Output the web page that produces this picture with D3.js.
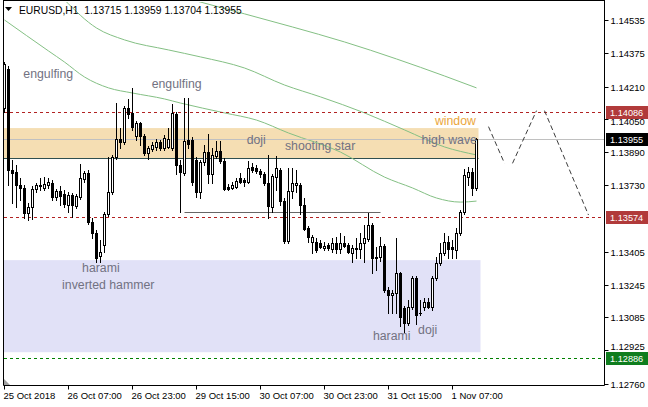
<!DOCTYPE html>
<html><head><meta charset="utf-8">
<script src="https://cdn.jsdelivr.net/npm/d3@7"></script>
<style>body{margin:0;background:#fff}svg{display:block}</style>
</head><body>
<svg id="c" width="648" height="407"></svg>
<script>
const symbolInfo = "EURUSD,H1";
const lastOHLC = [1.13715, 1.13959, 1.13704, 1.13955];

const opens = [
1.14106,1.14296,1.13803,1.13794,1.13730,1.13716,1.13594,1.13623,1.13711,1.13730,
1.13716,1.13730,1.13740,1.13672,1.13701,1.13686,1.13633,1.13681,1.13628,1.13672,
1.13760,1.13789,1.13550,1.13496,1.13384,1.13437,1.13589,1.13696,1.13867,1.13955,
1.13940,1.14106,1.14082,1.13969,1.14033,1.13969,1.13886,1.13906,1.13916,1.13940,
1.13911,1.13916,1.13911,1.14077,1.13828,1.13789,1.13950,1.13950,1.13852,1.13696,
1.13842,1.13891,1.13784,1.13872,1.13896,1.13847,1.13720,1.13716,1.13720,1.13764,
1.13755,1.13745,1.13818,1.13813,1.13798,1.13784,1.13740,1.13623,1.13769,1.13803,
1.13652,1.13457,1.13701,1.13730,1.13730,1.13633,1.13520,1.13452,1.13452,1.13447,
1.13423,1.13437,1.13418,1.13447,1.13418,1.13447,1.13437,1.13398,1.13418,1.13418,
1.13447,1.13467,1.13535,1.13379,1.13379,1.13433,1.13218,1.13193,1.13203,1.13301,
1.13130,1.13057,1.13135,1.13276,1.13106,1.13135,1.13159,1.13135,1.13276,1.13350,
1.13398,1.13452,1.13428,1.13413,1.13496,1.13598,1.13769,1.13794,1.13715];
const highs = [
1.14330,1.14311,1.13852,1.13828,1.13764,1.13730,1.13642,1.13725,1.13740,1.13764,
1.13769,1.13764,1.13755,1.13711,1.13725,1.13706,1.13696,1.13691,1.13686,1.13833,
1.13798,1.13803,1.13569,1.13511,1.13462,1.13598,1.13867,1.13877,1.14130,1.14008,
1.14116,1.14150,1.14204,1.14043,1.14038,1.13979,1.13921,1.13940,1.13955,1.13950,
1.13974,1.14008,1.14126,1.14086,1.13852,1.14155,1.14155,1.13964,1.13867,1.13852,
1.13925,1.13979,1.13911,1.13945,1.13945,1.13862,1.13735,1.13745,1.13764,1.13789,
1.13764,1.13847,1.13838,1.13828,1.13808,1.13794,1.13877,1.13784,1.13872,1.13813,
1.13667,1.13813,1.13813,1.13803,1.13740,1.13667,1.13530,1.13486,1.13472,1.13462,
1.13452,1.13447,1.13472,1.13476,1.13496,1.13481,1.13447,1.13437,1.13472,1.13496,
1.13535,1.13594,1.13545,1.13428,1.13476,1.13442,1.13232,1.13218,1.13472,1.13306,
1.13140,1.13169,1.13286,1.13286,1.13169,1.13179,1.13179,1.13286,1.13379,1.13447,
1.13496,1.13481,1.13462,1.13520,1.13608,1.13808,1.13818,1.13813,1.13959];
const lows = [
1.14086,1.13730,1.13642,1.13623,1.13657,1.13569,1.13559,1.13564,1.13696,1.13706,
1.13706,1.13716,1.13657,1.13657,1.13633,1.13623,1.13598,1.13574,1.13618,1.13662,
1.13745,1.13540,1.13472,1.13354,1.13354,1.13403,1.13579,1.13686,1.13857,1.13911,
1.13930,1.14057,1.13999,1.13950,1.13925,1.13877,1.13857,1.13896,1.13901,1.13901,
1.13901,1.13911,1.13901,1.13784,1.13598,1.13779,1.13911,1.13730,1.13672,1.13667,
1.13828,1.13740,1.13740,1.13862,1.13838,1.13706,1.13706,1.13711,1.13716,1.13740,
1.13725,1.13740,1.13794,1.13789,1.13769,1.13730,1.13569,1.13598,1.13706,1.13633,
1.13447,1.13447,1.13667,1.13696,1.13589,1.13511,1.13452,1.13398,1.13403,1.13423,
1.13413,1.13413,1.13403,1.13398,1.13398,1.13428,1.13398,1.13354,1.13374,1.13374,
1.13354,1.13457,1.13301,1.13315,1.13359,1.13208,1.13106,1.13106,1.13106,1.13042,
1.13013,1.13047,1.13125,1.13052,1.13096,1.13120,1.13130,1.13120,1.13267,1.13340,
1.13389,1.13374,1.13374,1.13374,1.13486,1.13589,1.13730,1.13681,1.13704];
const closes = [
1.14321,1.13803,1.13789,1.13730,1.13716,1.13594,1.13623,1.13711,1.13730,1.13725,
1.13735,1.13745,1.13672,1.13701,1.13677,1.13638,1.13681,1.13633,1.13677,1.13764,
1.13789,1.13550,1.13496,1.13374,1.13403,1.13589,1.13696,1.13867,1.13955,1.13940,
1.14106,1.14077,1.14013,1.14033,1.13969,1.13886,1.13911,1.13925,1.13940,1.13911,
1.13960,1.13955,1.14082,1.13828,1.13794,1.13945,1.13930,1.13745,1.13696,1.13842,
1.13891,1.13784,1.13877,1.13896,1.13847,1.13711,1.13711,1.13730,1.13750,1.13745,
1.13745,1.13813,1.13803,1.13798,1.13784,1.13740,1.13628,1.13774,1.13813,1.13652,
1.13457,1.13701,1.13740,1.13740,1.13633,1.13516,1.13476,1.13476,1.13413,1.13428,
1.13433,1.13423,1.13447,1.13418,1.13447,1.13433,1.13403,1.13423,1.13423,1.13447,
1.13472,1.13535,1.13374,1.13374,1.13433,1.13218,1.13193,1.13203,1.13301,1.13086,
1.13057,1.13135,1.13276,1.13096,1.13104,1.13159,1.13135,1.13276,1.13350,1.13398,
1.13452,1.13418,1.13418,1.13496,1.13598,1.13779,1.13794,1.13716,1.13955];

const xTickBars = [0,16,32,48,64,80,96,112];
const xTickLabels = ["25 Oct 2018","26 Oct 07:00","26 Oct 23:00","29 Oct 15:00","30 Oct 07:00","30 Oct 23:00","31 Oct 15:00","1 Nov 07:00"];
const yTicks = [1.14535,1.14375,1.14210,1.14050,1.13890,1.13730,1.13405,1.13245,1.13085,1.12925,1.12760];

const resistanceLevel = 1.14086, supportLevel = 1.13574, bidLevel = 1.13955, targetLevel = 1.12886;
const upperZone = [1.14008, 1.13857];
const lowerZone = [1.13364, 1.12915];
const necklineBars = [45, 94], necklinePrice = 1.13598;

const maSlowBars = [47,60,72,85,98,110,118];
const maSlowVals = [1.14633,1.14565,1.14501,1.14428,1.14345,1.14262,1.14204];
const maMidBars = [15,23,30,41,49,60,70,79,90,100,110,118];
const maMidVals = [1.14633,1.14496,1.14438,1.14389,1.14355,1.14301,1.14218,1.14160,1.14082,1.13999,1.13916,1.13877];
const maFastBars = [0,11,15,20,26,32,40,44,55,63,71,84,95,102,108,114,118];
const maFastVals = [1.14535,1.14384,1.14330,1.14257,1.14204,1.14179,1.14150,1.14130,1.14082,1.14047,1.13984,1.13891,1.13769,1.13716,1.13667,1.13647,1.13652];

const projBars = [121,125,127,133,135,146];
const projVals = [1.14015,1.13836,1.13836,1.14093,1.14093,1.13584];

const noteTexts = ["engulfing","engulfing","doji","shooting star","window","high wave","harami","inverted hammer","harami","doji"];
const noteBars  = [4.7,36.8,60.55,70.1,107.6,104.25,19.4,14.4,92.1,103.4];
const notePrices= [1.14250,1.14204,1.13930,1.13901,1.14023,1.13928,1.13306,1.13223,1.12974,1.13003];
const noteIsWindow = [0,0,0,0,1,0,0,0,0,0];

// ---------- drawing ----------
const svg = d3.select("#c");
const L = 4, R = 604, T = 2, B = 385;
const x = d3.scaleLinear().domain([0, 118]).range([4.5, 476.5]);
const y = d3.scaleLinear().domain([1.12760, 1.14535]).range([384, 20]);
const font = "'Liberation Sans', Arial, sans-serif";

svg.append("defs").append("clipPath").attr("id","plot")
  .append("rect").attr("x",L).attr("y",T).attr("width",R-L).attr("height",B-T);
const g = svg.append("g").attr("clip-path","url(#plot)");
const snap = v => Math.round(v) + 0.5;

// zones
g.append("rect").attr("x", L).attr("width", x(118) + 2 - L)
  .attr("y", y(upperZone[0])).attr("height", y(upperZone[1]) - y(upperZone[0]))
  .attr("fill", "#f5deb3");
g.append("rect").attr("x", L).attr("width", x(118) + 4 - L)
  .attr("y", y(lowerZone[0])).attr("height", y(lowerZone[1]) - y(lowerZone[0]))
  .attr("fill", "#e1e1f7");
g.append("line").attr("x1", L).attr("x2", x(118) + 2)
  .attr("y1", snap(y(upperZone[1]))-1).attr("y2", snap(y(upperZone[1]))-1)
  .attr("stroke", "#2f4f4f");

// moving averages
const maLine = d3.line().x(d => x(d[0])).y(d => y(d[1])).curve(d3.curveMonotoneX);
[[maSlowBars, maSlowVals],[maMidBars, maMidVals],[maFastBars, maFastVals]].forEach(([b, v]) => {
  g.append("path").attr("d", maLine(b.map((bi, k) => [bi, v[k]])))
    .attr("fill","none").attr("stroke","#84c084").attr("stroke-width",1);
});

// horizontal levels
function hline(price, color, dash) {
  const yy = snap(y(price));
  g.append("line").attr("x1", L).attr("x2", R).attr("y1", yy).attr("y2", yy)
    .attr("stroke", color).attr("stroke-width", 1).attr("stroke-dasharray", dash);
}
hline(bidLevel, "#c0c0c0", null);
hline(resistanceLevel, "#b22222", "3,3");
hline(supportLevel, "#b22222", "3,3");
hline(targetLevel, "#008000", "3,3");

// neckline segment
g.append("line").attr("x1", x(necklineBars[0])).attr("x2", x(necklineBars[1]))
  .attr("y1", snap(y(necklinePrice))).attr("y2", snap(y(necklinePrice)))
  .attr("stroke", "#666").attr("stroke-width", 1);

// candles
const candles = opens.map((o, i) => ({i, o, h: highs[i], l: lows[i], c: closes[i]}));
const cg = g.append("g");
candles.forEach(d => {
  const cx = x(d.i);
  cg.append("line").attr("x1", cx).attr("x2", cx)
    .attr("y1", Math.round(y(d.h))).attr("y2", Math.round(y(d.l)) + 1)
    .attr("stroke", "#000").attr("stroke-width", 1);
  const top = snap(y(Math.max(d.o, d.c))), bot = snap(y(Math.min(d.o, d.c)));
  if (bot - top < 1) {
    cg.append("line").attr("x1", cx - 1.5).attr("x2", cx + 1.5).attr("y1", top).attr("y2", top)
      .attr("stroke", "#000");
  } else {
    cg.append("rect").attr("x", cx - 1).attr("width", 2).attr("y", top).attr("height", bot - top)
      .attr("fill", d.c >= d.o ? "#fff" : "#000").attr("stroke", "#000").attr("stroke-width", 1);
  }
});

// annotations
noteTexts.forEach((t, k) => {
  g.append("text").attr("x", x(noteBars[k])).attr("y", y(notePrices[k]))
    .attr("font-family", font).attr("font-size", "12.3px")
    .attr("fill", noteIsWindow[k] ? "#eba63c" : "#727282").text(t);
});

// projection zigzag
for (let k = 0; k < projBars.length; k += 2) {
  g.append("line").attr("x1", x(projBars[k])).attr("y1", y(projVals[k]))
    .attr("x2", x(projBars[k+1])).attr("y2", y(projVals[k+1]))
    .attr("stroke", "#3c3c3c").attr("stroke-width", 1).attr("stroke-dasharray", "5,3");
}

// frame
svg.append("path").attr("d", `M${L-0.5},0V${B+0.5}H${R+0.5}V0`).attr("fill","none").attr("stroke","#000");
svg.append("line").attr("x1", L-0.5).attr("x2", R+0.5).attr("y1", 0.5).attr("y2", 0.5).attr("stroke","#000");
svg.append("path").attr("d", `M4,379V385H10Z`).attr("fill", "#a0a0a0");

// price boxes (drawn before axis labels that sit next to them)
function priceBox(price, bg) {
  const yy = Math.round(y(price));
  svg.append("rect").attr("x", R + 2).attr("y", yy - 6).attr("width", 44).attr("height", 13).attr("fill", bg);
  svg.append("text").attr("x", R + 6).attr("y", yy + 3.5).attr("font-family", font)
    .attr("font-size", "9.2px").attr("fill", "#fff").text(d3.format(".5f")(price));
}

// y axis
const yAxis = d3.axisRight(y).tickValues(yTicks).tickSize(4).tickPadding(2)
  .tickFormat(d3.format(".5f"));
const ya = svg.append("g").attr("transform", `translate(${R+0.5},0)`).call(yAxis);
ya.select(".domain").remove();
ya.selectAll("text").attr("font-family", font).attr("font-size", "9.5px").attr("fill", "#000");
ya.selectAll("line").attr("stroke", "#000");
ya.selectAll(".tick").attr("transform", d => `translate(0,${snap(y(d))})`);
// labels partly behind the level boxes: nudge them clear of the box text
ya.selectAll(".tick text").attr("dy", d => d === 1.14050 ? "0.62em" : d === 1.12925 ? "-0.1em" : "0.32em");

priceBox(resistanceLevel, "#b13a3a");
priceBox(bidLevel, "#000");
priceBox(supportLevel, "#b13a3a");
priceBox(targetLevel, "#0f7d1e");

// x axis
const xAxis = d3.axisBottom(x).tickValues(xTickBars).tickSize(4)
  .tickFormat((d, k) => xTickLabels[k]);
const xa = svg.append("g").attr("transform", `translate(0,${B+0.5})`).call(xAxis);
xa.select(".domain").remove();
xa.selectAll(".tick").attr("transform", d => `translate(${Math.floor(x(d))+0.5},0)`);
xa.selectAll("text").attr("font-family", font).attr("font-size", "9.5px").attr("fill", "#000")
  .attr("text-anchor", "start").attr("x", -1).attr("dy", null).attr("y", 13);
xa.selectAll("line").attr("stroke", "#000");

// header
svg.append("path").attr("d", "M5,7H12L8.5,11Z").attr("fill", "#000");
svg.append("text").attr("x", 19).attr("y", 13.5).attr("font-family", font).attr("font-size", "10.3px")
  .attr("fill", "#000").style("white-space","pre")
  .text(symbolInfo + "  " + lastOHLC.map(d3.format(".5f")).join(" "));
</script>
</body></html>
